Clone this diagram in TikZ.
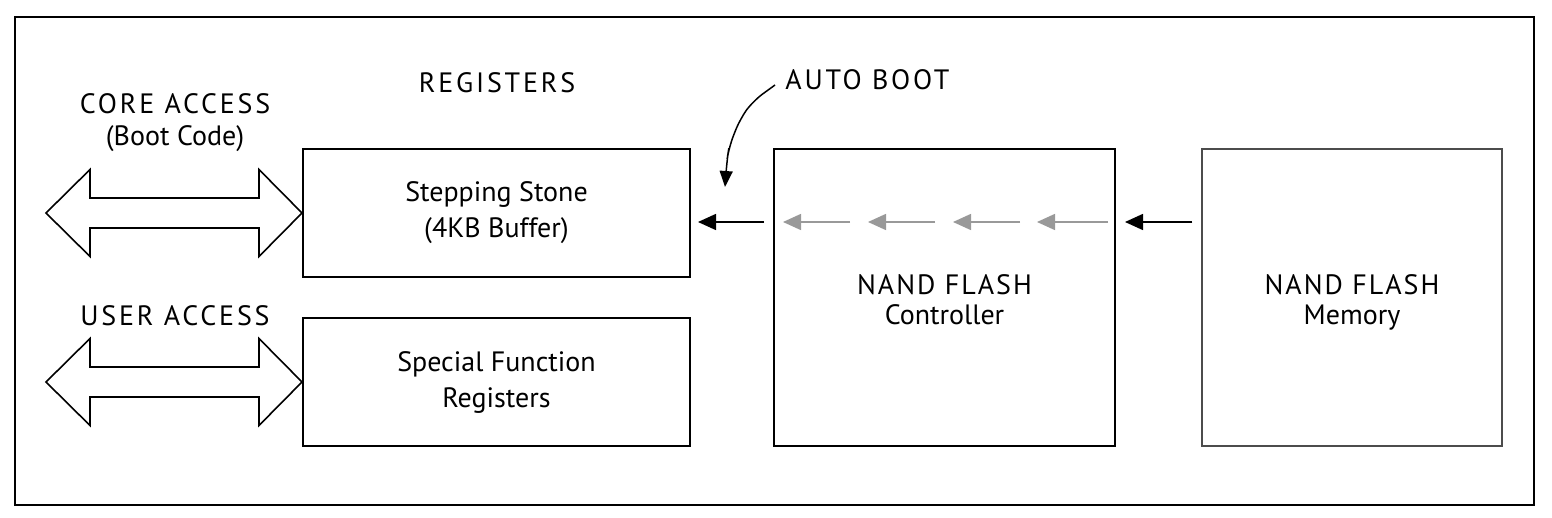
\documentclass[tikz,border=0pt]{standalone}
\usepackage{fontspec}
\setmainfont{PT Sans}
\newfontfamily\capsfont[LetterSpace=10]{PT Sans}
\newfontfamily\capsfontb[LetterSpace=7]{PT Sans}
\usetikzlibrary{arrows.meta}
\begin{document}
\begin{tikzpicture}[x=0.5pt,y=-0.5pt,
  txt/.style={font=\fontsize{14}{18}\selectfont, inner sep=0pt},
  lbl/.style={font=\capsfont\fontsize{14}{18}\selectfont, inner sep=0pt},
  box/.style={draw, line width=1pt, align=center, txt},
  tallbox/.style={box, font=\fontsize{14}{15}\selectfont},
  membox/.style={tallbox, draw=black!70, line width=0.7pt},
  blk/.style={line width=0.75pt, -{Triangle[length=9pt,width=8pt]}},
  gry/.style={line width=0.75pt, draw=black!40, -{Triangle[length=9pt,width=8pt]}, color=black!40},
  bus/.style={draw, line width=0.8pt, fill=white, line join=miter}]
\useasboundingbox (0,0) rectangle (1552,518);
\node[draw, line width=1pt, minimum width=759.5pt, minimum height=244pt, inner sep=0pt] (frame) at (774.5,261) {};
% boxes
\node[box, minimum width=193.5pt, minimum height=64pt] (ss) at (496.5,213)
  {Stepping Stone\\(4KB Buffer)};
\node[box, minimum width=193.5pt, minimum height=64pt] (sfr) at (496.5,382)
  {Special Function\\Registers};
\node[tallbox, minimum width=170.5pt, minimum height=148.5pt] (ctrl) at (944.5,297.5)
  {{\capsfontb\rule{0pt}{16pt}NAND FLASH}\\Controller\strut};
\node[membox, minimum width=150pt, minimum height=148.5pt] (mem) at (1352,297.5)
  {{\capsfontb\rule{0pt}{16pt}NAND FLASH}\\Memory\strut};
% labels
\node[lbl] (core) at (175,104) {CORE ACCESS};
\node[txt] (bootc) at (175,139) {(Boot Code)};
\node[lbl] (user) at (175,316) {USER ACCESS};
\node[lbl] (regs) at (497,83) {REGISTERS};
\node[lbl, anchor=west] (ab) at (785,80) {AUTO BOOT};
% bus arrows
\draw[bus] (ss.west) -- ++(-43,-43.5) -- ++(0,28.5) -- ++(-169,0) -- ++(0,-28.5)
  -- ++(-44,43.5) -- ++(44,43.5) -- ++(0,-28.5) -- ++(169,0) -- ++(0,28.5) -- cycle;
\draw[bus] (sfr.west) -- ++(-43,-43.5) -- ++(0,28.5) -- ++(-169,0) -- ++(0,-28.5)
  -- ++(-44,43.5) -- ++(44,43.5) -- ++(0,-28.5) -- ++(169,0) -- ++(0,28.5) -- cycle;
% data path
\coordinate (ain) at ([xshift=3.5pt,yshift=-4.5pt]ss.east);
\coordinate (aout) at ([xshift=-4.5pt]ctrl.west |- ain);
\draw[blk] (aout) -- (ain);
\coordinate (g1s) at (1108,222); \coordinate (g1e) at (1037,222);
\coordinate (g2s) at (1020,222); \coordinate (g2e) at (953,222);
\coordinate (g3s) at (935,222);  \coordinate (g3e) at (868,222);
\coordinate (g4s) at (850,222);  \coordinate (g4e) at (783,222);
\draw[gry] (g1s) -- (g1e);
\draw[gry] (g2s) -- (g2e);
\draw[gry] (g3s) -- (g3e);
\draw[gry] (g4s) -- (g4e);
\coordinate (min) at ([xshift=4.5pt]ctrl.east |- ain);
\coordinate (mout) at ([xshift=-4.5pt]mem.west |- ain);
\draw[blk] (mout) -- (min);
% auto boot pointer
\coordinate (abs) at (775,85);
\coordinate (abe) at (725,187);
\draw[line width=0.75pt, rounded corners=6pt, -{Triangle[length=8pt,width=6.5pt]}]
  (abs) -- (753,101) -- (740,119) -- (729,147) -- (727,160) -- (abe);
\end{tikzpicture}
\end{document}
